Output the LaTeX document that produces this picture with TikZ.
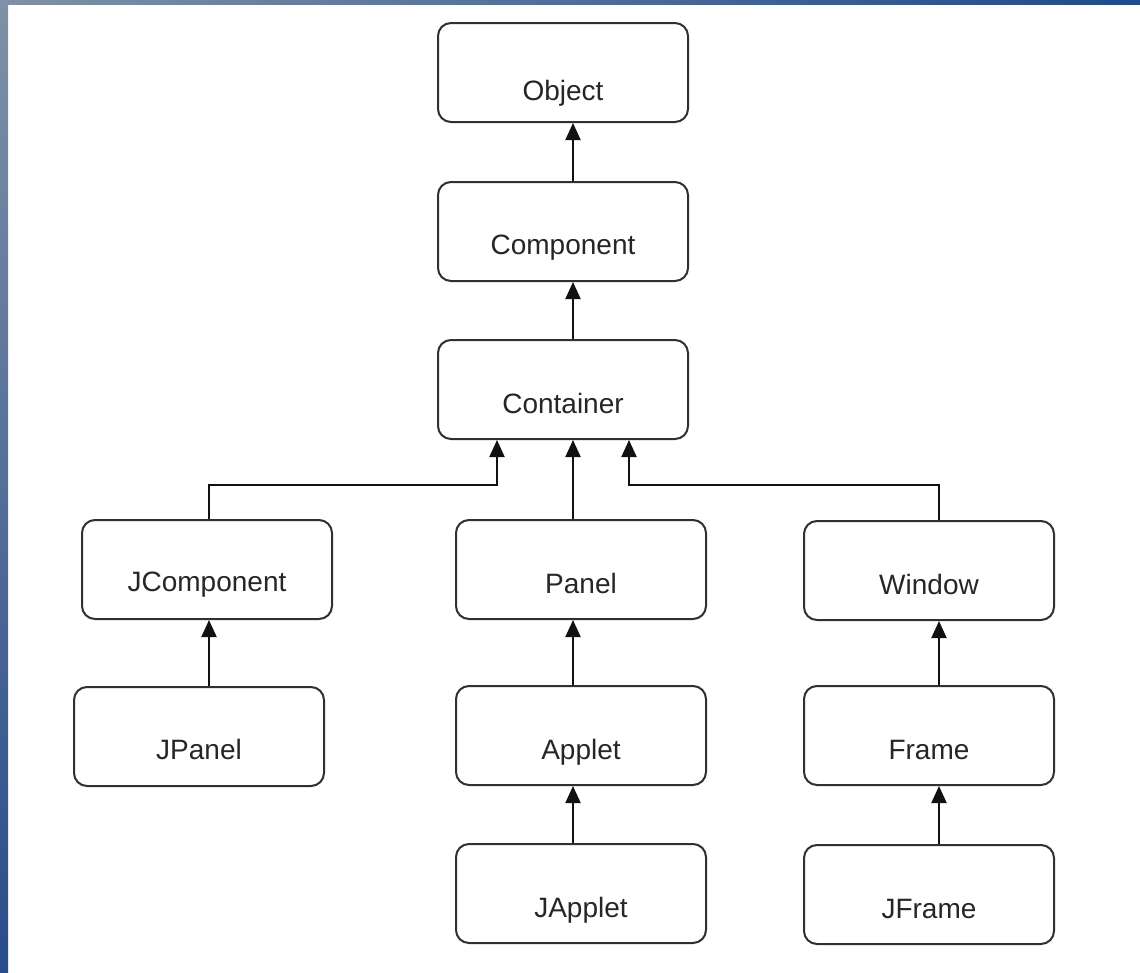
\documentclass[tikz,border=0pt]{standalone}
\usepackage{fontspec}
\setmainfont{Liberation Sans}
\usetikzlibrary{arrows.meta,calc}
\definecolor{boxc}{HTML}{303030}
\definecolor{linec}{HTML}{111111}
\definecolor{stripgray}{HTML}{7F91A6}
\definecolor{stripblue}{HTML}{2A4C8A}
\definecolor{topblue}{HTML}{204A8A}
\tikzset{
  cls/.style={draw=boxc, line width=2pt, rounded corners=13pt, minimum width=250pt,
    minimum height=99pt, inner sep=0pt, anchor=north west, fill=white},
  lbl/.style={font=\fontsize{28}{32}\selectfont, anchor=base, inner sep=0pt, text=black!85},
  arr/.style={draw=linec, line width=2pt, -{Triangle[width=15pt,length=17pt]}},
}
\begin{document}
\begin{tikzpicture}[x=1pt,y=-1pt]
\useasboundingbox (0,0) rectangle (1140,972);
\fill[white] (0,0) rectangle (1140,972);
\shade[top color=stripgray, bottom color=stripblue] (0,0) rectangle (8,972);
\shade[left color=stripgray, right color=topblue] (0,0) rectangle (1140,4);

% boxes
\node[cls] (obj)   at (437,22)  {};
\node[cls] (comp)  at (437,181) {};
\node[cls] (cont)  at (437,339) {};
\node[cls] (jcomp) at (81,519)  {};
\node[cls] (pan)   at (455,519) {};
\node[cls] (win)   at (803,520) {};
\node[cls] (jpan)  at (73,686)  {};
\node[cls] (app)   at (455,685) {};
\node[cls] (frm)   at (803,685) {};
\node[cls] (japp)  at (455,843) {};
\node[cls] (jfrm)  at (803,844) {};

% labels
\node[lbl] (objT)   at ($(obj.north)+(0,78)$)   {Object};
\node[lbl] (compT)  at ($(comp.north)+(0,73)$)  {Component};
\node[lbl] (contT)  at ($(cont.north)+(0,74)$)  {Container};
\node[lbl] (jcompT) at ($(jcomp.north)+(0,72)$) {JComponent};
\node[lbl] (panT)   at ($(pan.north)+(0,74)$)   {Panel};
\node[lbl] (winT)   at ($(win.north)+(0,74)$)   {Window};
\node[lbl] (jpanT)  at ($(jpan.north)+(0,73)$)  {JPanel};
\node[lbl] (appT)   at ($(app.north)+(0,74)$)   {Applet};
\node[lbl] (frmT)   at ($(frm.north)+(0,74)$)   {Frame};
\node[lbl] (jappT)  at ($(japp.north)+(0,74)$)  {JApplet};
\node[lbl] (jfrmT)  at ($(jfrm.north)+(0,74)$)  {JFrame};

% connection points (middle column line at x=573, left at 208, right at 938)
\coordinate (ob)  at ($(obj.south)+(10,0)$);
\coordinate (cpb) at ($(comp.south)+(10,0)$);
\coordinate (cm)  at ($(cont.south)+(10,0)$);
\coordinate (cl)  at ($(cont.south)+(-66,0)$);
\coordinate (cr)  at ($(cont.south)+(66,0)$);
\coordinate (jct) at ($(jcomp.north)+(2,0)$);
\coordinate (jcb) at ($(jcomp.south)+(2,0)$);
\coordinate (pb)  at ($(pan.south -| cm)$);
\coordinate (ab)  at ($(app.south -| cm)$);
\coordinate (wt)  at ($(win.north)+(10,0)$);
\coordinate (wb)  at ($(win.south)+(10,0)$);
\coordinate (fb)  at ($(frm.south -| wb)$);

% connectors
\draw[arr] (comp.north -| ob) -- (ob);
\draw[arr] (cont.north -| cpb) -- (cpb);
\draw[arr] (jct) |- ($(cl)+(0,45)$) -- (cl);
\draw[arr] (pan.north -| cm) -- (cm);
\draw[arr] (wt) |- ($(cr)+(0,45)$) -- (cr);
\draw[arr] (jpan.north -| jcb) -- (jcb);
\draw[arr] (app.north -| pb) -- (pb);
\draw[arr] (japp.north -| ab) -- (ab);
\draw[arr] (frm.north -| wb) -- (wb);
\draw[arr] (jfrm.north -| fb) -- (fb);
\end{tikzpicture}
\end{document}
